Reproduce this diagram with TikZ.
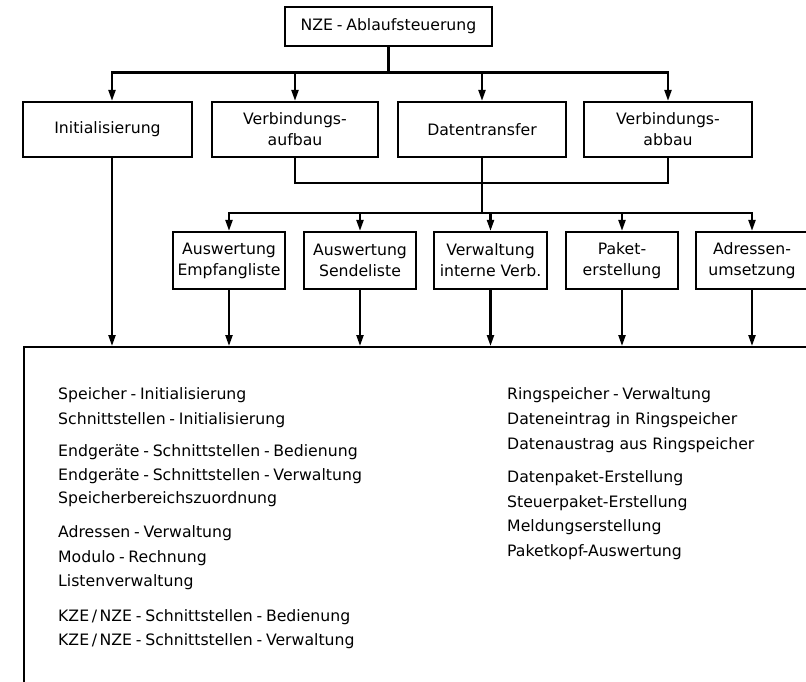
\documentclass[tikz,border=0pt]{standalone}
\usepackage{fontspec}
\setmainfont{DejaVu Sans}
\usetikzlibrary{arrows.meta}
% spaced hyphen as used in the routine names
\newcommand\dashsep{\hspace{0.24em}-\hspace{0.24em}}
\begin{document}
\begin{tikzpicture}[x=1pt,y=-1pt,
  every node/.style={font=\fontsize{15.7}{21}\selectfont},
  block/.style={draw, line width=2.2pt, align=center, inner sep=0pt},
  wire/.style={line width=2.2pt},
  feed/.style={wire, -{Triangle[width=7pt,length=11pt]}},
  item/.style={anchor=base west, inner sep=0pt}]
\clip (0,0) rectangle (806,682);

% control module
\node[block, minimum width=207pt, minimum height=39pt] (top) at (388.5,26.5) {NZE\dashsep Ablaufsteuerung};

% main phases
\node[block, minimum width=169pt, minimum height=55pt] (ini)  at (107.5,129.5) {Initialisierung};
\node[block, minimum width=166pt, minimum height=55pt] (vauf) at (295,129.5) {Verbindungs-\\aufbau};
\node[block, minimum width=168pt, minimum height=55pt] (dt)   at (482,129.5) {Datentransfer};
\node[block, minimum width=168pt, minimum height=55pt] (vab)  at (668,129.5) {Verbindungs-\\abbau};

% sub-functions
\node[block, minimum width=112pt, minimum height=57pt] (ea) at (229,260.5) {Auswertung\\Empfangliste};
\node[block, minimum width=112pt, minimum height=57pt] (es) at (360,260.5) {Auswertung\\Sendeliste};
\node[block, minimum width=113pt, minimum height=57pt] (vi) at (490.5,260.5) {Verwaltung\\interne Verb.};
\node[block, minimum width=112pt, minimum height=57pt] (pe) at (622,260.5) {Paket-\\erstellung};
\node[block, minimum width=112pt, minimum height=57pt] (au) at (752,260.5) {Adressen-\\umsetzung};

% routine block
\node[draw, line width=2.2pt, anchor=north west, minimum width=820pt, minimum height=380pt, inner sep=0pt] (frame) at (23,346) {};

% junctions
\coordinate (bus1) at (388.5,72.5);
\coordinate (join) at (482,183);
\coordinate (bus2) at (482,213);

% top-level distribution
\draw[wire] (top.south) -- (bus1);
\draw[feed] (bus1) -| ([xshift=4.5pt]ini.north);
\draw[feed] (bus1) -| (vauf.north);
\draw[feed] (bus1) -| (dt.north);
\draw[feed] (bus1) -| (vab.north);

% connection phases merge into data transfer path
\draw[wire] (vauf.south) |- (join) -| (vab.south);
\draw[wire] (dt.south) -- (bus2);

% second-level distribution
\draw[feed] (bus2) -| (ea.north);
\draw[feed] (bus2) -| (es.north);
\draw[feed] (bus2) -| (vi.north);
\draw[feed] (bus2) -| (pe.north);
\draw[feed] (bus2) -| (au.north);

% calls into routine block
\draw[feed] ([xshift=4.5pt]ini.south) -- ([xshift=4.5pt]ini.south |- frame.north);
\draw[feed] (ea.south) -- (ea.south |- frame.north);
\draw[feed] (es.south) -- (es.south |- frame.north);
\draw[feed] (vi.south) -- (vi.south |- frame.north);
\draw[feed] (pe.south) -- (pe.south |- frame.north);
\draw[feed] (au.south) -- (au.south |- frame.north);

% routines, left column
\node[item] (l1)  at (58,399) {Speicher\dashsep Initialisierung};
\node[item] (l2)  at (58,424) {Schnittstellen\dashsep Initialisierung};
\node[item] (l3)  at (58,456) {Endgeräte\dashsep Schnittstellen\dashsep Bedienung};
\node[item] (l4)  at (58,480) {Endgeräte\dashsep Schnittstellen\dashsep Verwaltung};
\node[item] (l5)  at (58,503) {Speicherbereichszuordnung};
\node[item] (l6)  at (58,537) {Adressen\dashsep Verwaltung};
\node[item] (l7)  at (58,562) {Modulo\dashsep Rechnung};
\node[item] (l8)  at (58,586) {Listenverwaltung};
\node[item] (l9)  at (58,621) {KZE\,/\,NZE\dashsep Schnittstellen\dashsep Bedienung};
\node[item] (l10) at (58,645) {KZE\,/\,NZE\dashsep Schnittstellen\dashsep Verwaltung};

% routines, right column
\node[item] (r1) at (507,399) {Ringspeicher\dashsep Verwaltung};
\node[item] (r2) at (507,424) {Dateneintrag in Ringspeicher};
\node[item] (r3) at (507,449) {Datenaustrag aus Ringspeicher};
\node[item] (r4) at (507,482) {Datenpaket-Erstellung};
\node[item] (r5) at (507,507) {Steuerpaket-Erstellung};
\node[item] (r6) at (507,531) {Meldungserstellung};
\node[item] (r7) at (507,556) {Paketkopf-Auswertung};
\end{tikzpicture}
\end{document}
